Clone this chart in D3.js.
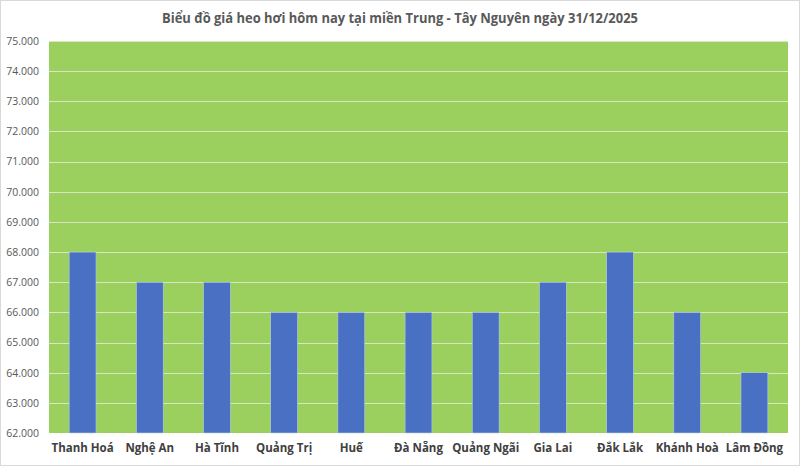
<!DOCTYPE html>
<html><head><meta charset="utf-8">
<script src="https://cdn.jsdelivr.net/npm/d3@7"></script>
<style>body{margin:0;background:#fff}svg{display:block}</style>
</head><body>
<svg id="c" width="800" height="466"></svg>
<script>
const title = "Biểu đồ giá heo hơi hôm nay tại miền Trung - Tây Nguyên ngày 31/12/2025";
const categories = ["Thanh Hoá","Nghệ An","Hà Tĩnh","Quảng Trị","Huế","Đà Nẵng","Quảng Ngãi","Gia Lai","Đắk Lắk","Khánh Hoà","Lâm Đồng"];
const prices = [68000,67000,67000,66000,66000,66000,66000,67000,68000,66000,64000];
const yTicks = [62000,63000,64000,65000,66000,67000,68000,69000,70000,71000,72000,73000,74000,75000];

const svg = d3.select("#c");
const m = {l:49, r:12, t:41, b:33};
const W = 800, H = 466;
const x = d3.scaleBand().domain(categories).range([m.l, W-m.r]).paddingInner(0.6).paddingOuter(0.3);
const y = d3.scaleLinear().domain([62000,75000]).range([H-m.b, m.t]);
const fmt = v => d3.format(",.3f")(v/1000).replace(",", "#");

svg.append("rect").attr("x",0.5).attr("y",0.5).attr("width",W-1).attr("height",H-1).attr("fill","#fff").attr("stroke","#d9d9d9");

svg.append("rect").attr("x",m.l).attr("y",m.t).attr("width",W-m.r-m.l).attr("height",H-m.b-m.t).attr("fill","#9BCF5E");

svg.append("g").selectAll("line").data(yTicks.slice(1)).join("line")
  .attr("x1",m.l).attr("x2",W-m.r).attr("y1",d=>Math.round(y(d))+0.5).attr("y2",d=>Math.round(y(d))+0.5)
  .attr("stroke","#d6e8c0").attr("stroke-width",1.2);

svg.append("g").selectAll("rect").data(prices).join("rect")
  .attr("x",(d,i)=>x(categories[i])).attr("width",x.bandwidth())
  .attr("y",d=>y(d)).attr("height",d=>y(62000)-y(d))
  .attr("fill","#4A70C4").attr("stroke","#b9cfe0").attr("stroke-width",0.6);

const yAxis = d3.axisLeft(y).tickValues(yTicks).tickSize(0).tickPadding(10)
  .tickFormat(d => (d/1000).toFixed(3));
const ga = svg.append("g").attr("transform",`translate(${m.l},0)`).call(yAxis);
ga.select(".domain").remove();
ga.selectAll("text").attr("font-family","Open Sans, sans-serif").attr("font-size",10.5).attr("fill","#595959");

const xAxis = d3.axisBottom(x).tickSize(0).tickPadding(11);
const gx = svg.append("g").attr("transform",`translate(0,${H-m.b})`).call(xAxis);
gx.select(".domain").remove();
gx.selectAll("text").attr("font-family","Open Sans, sans-serif").attr("font-weight","bold").attr("font-size",11.5).attr("fill","#404040");

svg.append("text").attr("x",400).attr("y",23).attr("text-anchor","middle")
  .attr("font-family","Open Sans, sans-serif").attr("font-weight","bold").attr("font-size",13.5).attr("fill","#595959")
  .attr("textLength",476).attr("lengthAdjust","spacingAndGlyphs").text(title);
</script>
</body></html>
